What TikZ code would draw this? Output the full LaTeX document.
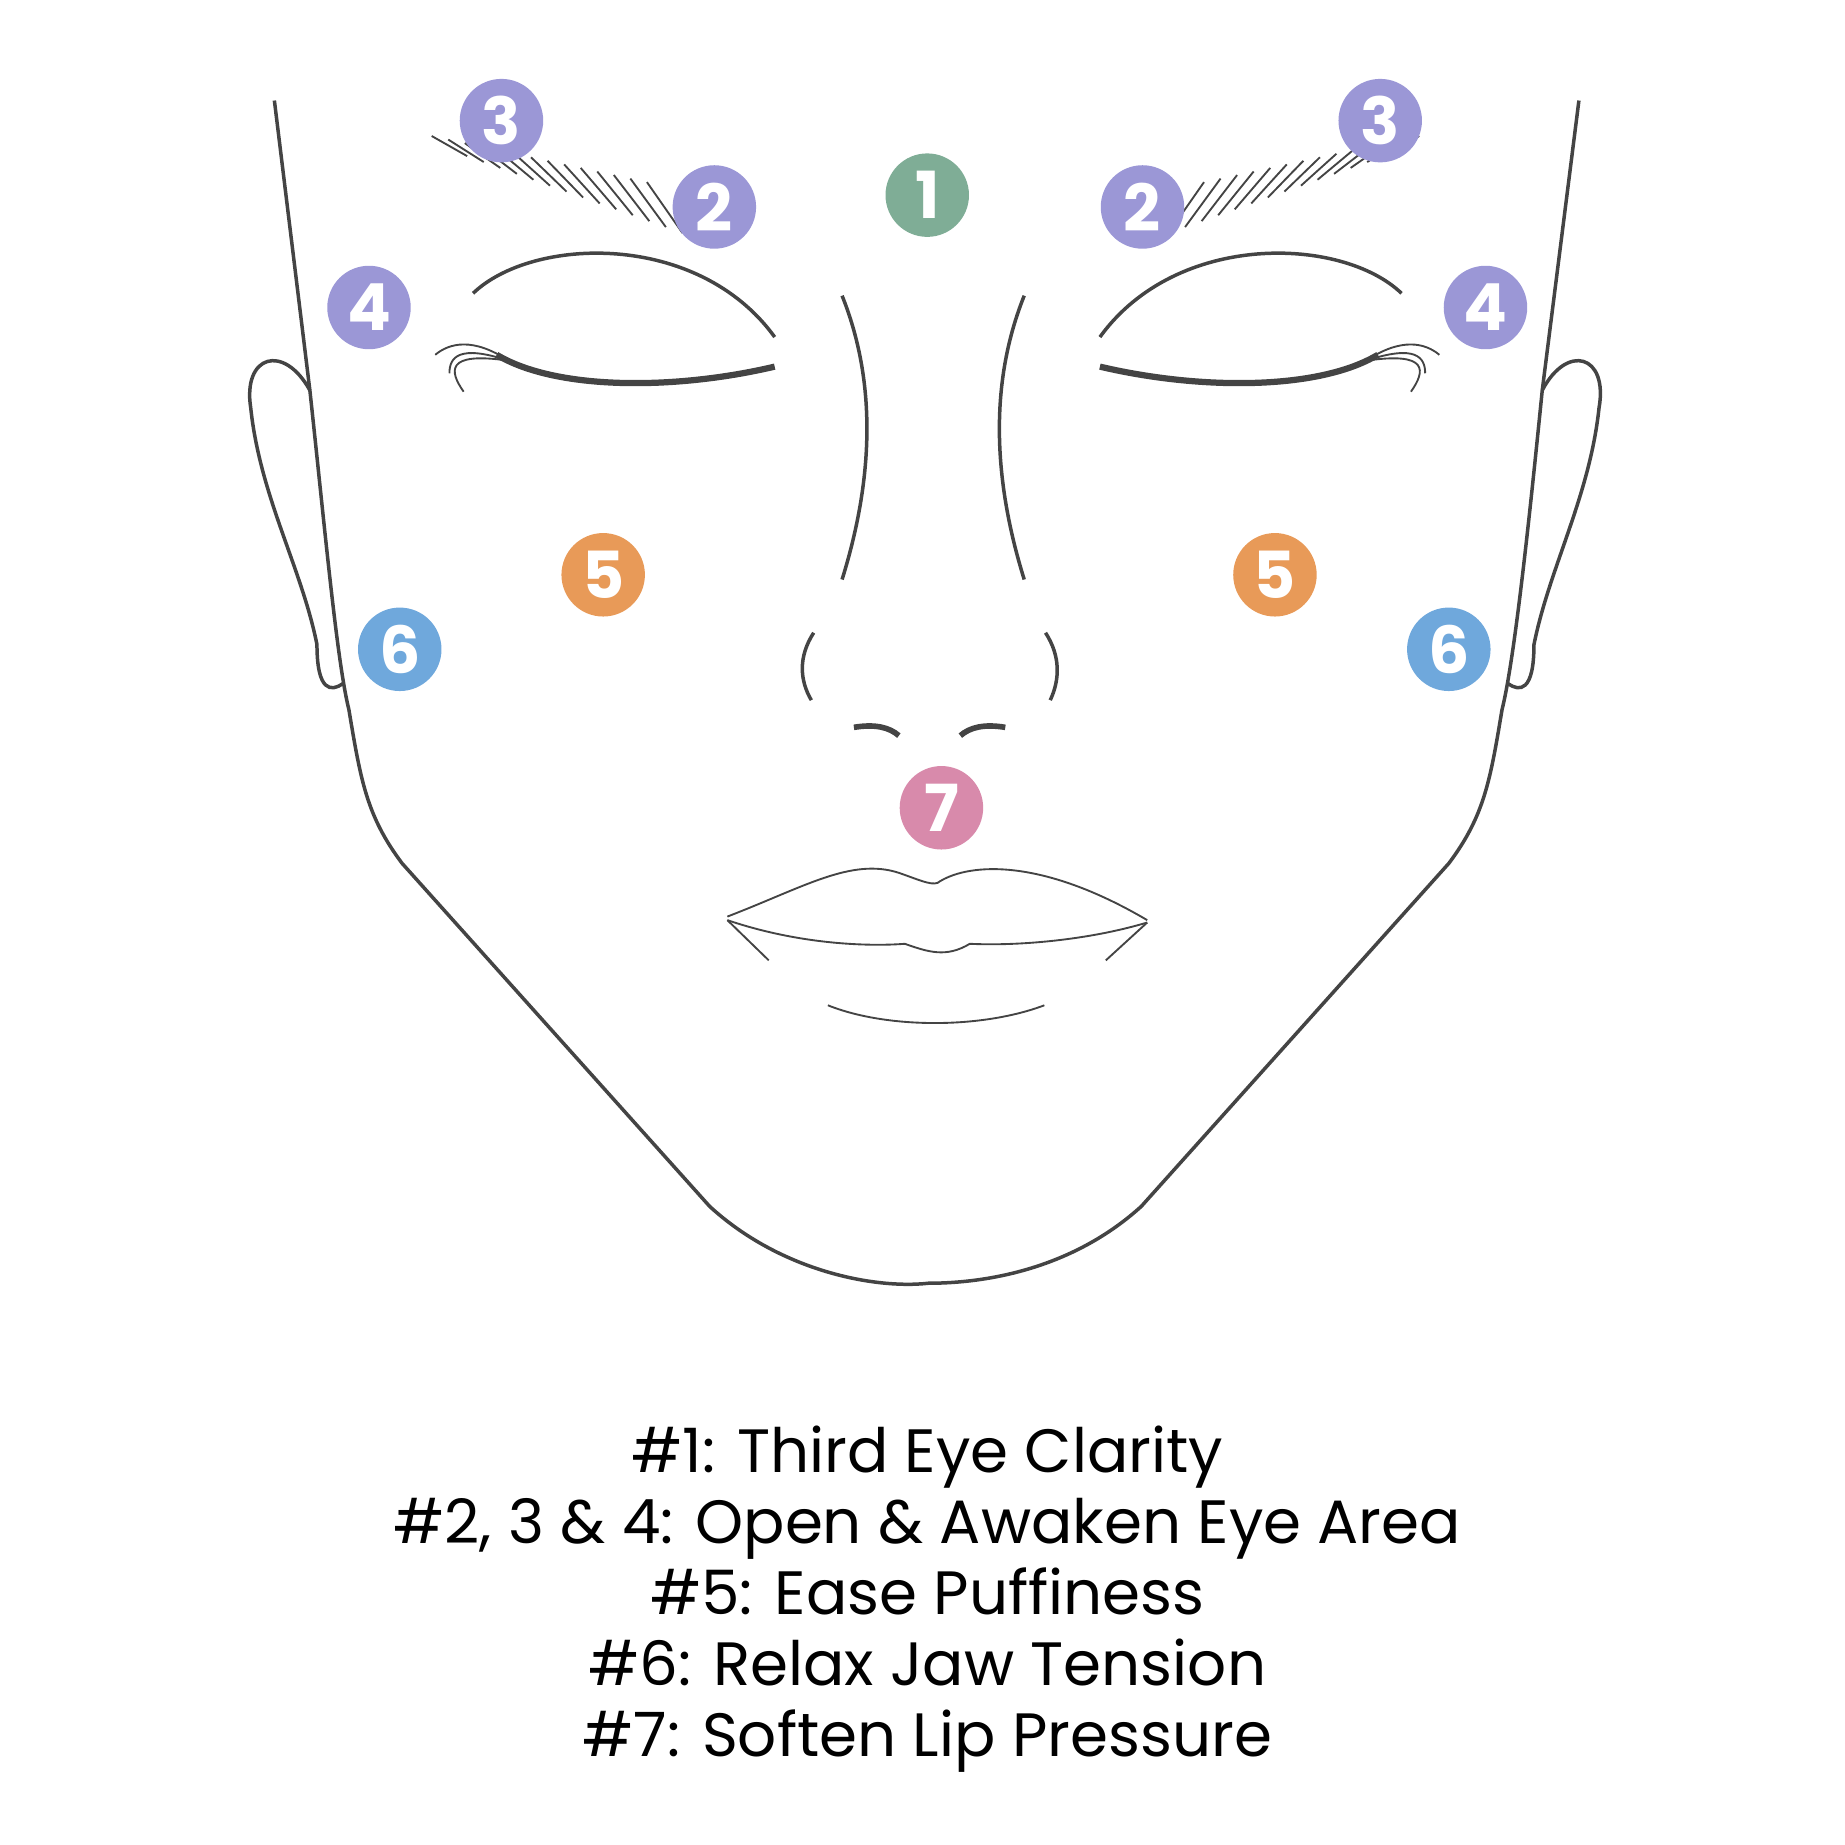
\documentclass[tikz,border=0pt]{standalone}
\usepackage{fontspec}
\setmainfont{Poppins}
\definecolor{lilac}{HTML}{9B97D6}
\definecolor{sage}{HTML}{7FAD96}
\definecolor{apricot}{HTML}{E89A58}
\definecolor{sky}{HTML}{6FA8DC}
\definecolor{rose}{HTML}{D88AAB}
\definecolor{ink}{HTML}{444444}
\tikzset{
  line/.style={ink,line width=2.8pt},
  fine/.style={ink,line width=1.5pt},
  spot/.style={circle,fill=#1,text=white,minimum size=2.35cm,inner sep=0pt,font=\fontsize{52}{52}\selectfont\bfseries},
  legendline/.style={font=\fontsize{49}{49}\selectfont,anchor=base}
}
\begin{document}
\begin{tikzpicture}[x=0.0333cm,y=-0.0333cm]
  \useasboundingbox (0,0) rectangle (1560,1560);
  % face outline
  \draw[line] (232,85) -- (262,330) .. controls (275,450) and (285,560) .. (295,600)
    .. controls (305,660) and (310,690) .. (340,730) -- (600,1020)
    .. controls (660,1075) and (740,1090) .. (785,1085)
    .. controls (840,1085) and (910,1070) .. (965,1020) -- (1225,730)
    .. controls (1255,690) and (1260,660) .. (1270,600)
    .. controls (1280,560) and (1292,450) .. (1304,330) -- (1335,85);
  % ears
  \draw[line] (262,330) .. controls (240,290) and (205,300) .. (212,345)
    .. controls (220,420) and (255,480) .. (268,545) .. controls (268,585) and (280,585) .. (290,578);
  \draw[line] (1304,330) .. controls (1325,290) and (1360,300) .. (1352,345)
    .. controls (1344,420) and (1310,480) .. (1297,545) .. controls (1297,585) and (1285,585) .. (1275,578);
  % eyebrows
  \foreach \i in {0,...,13}{
    \draw[fine] ({365+14*\i},{115+3*\i}) -- ({395+14*\i},{132+5*\i});
    \draw[fine] ({1200-14*\i},{115+3*\i}) -- ({1170-14*\i},{132+5*\i});
  }
  % eyes
  \draw[line] (400,248) .. controls (450,200) and (590,195) .. (655,285);
  \draw[line] (930,285) .. controls (995,195) and (1135,200) .. (1185,248);
  \draw[ink,line width=5pt] (420,300) .. controls (470,330) and (570,330) .. (655,310);
  \draw[ink,line width=5pt] (930,310) .. controls (1015,330) and (1115,330) .. (1165,300);
  \foreach \d in {0,12,24}{
    \draw[fine] (430,305) .. controls ({400-\d},{285+\d/2}) and (380,{290+\d}) .. ({368+\d},{300+\d*1.3});
    \draw[fine] (1155,305) .. controls ({1185+\d},{285+\d/2}) and (1205,{290+\d}) .. ({1217-\d},{300+\d*1.3});
  }
  % nose
  \draw[line] (712,250) .. controls (740,320) and (740,400) .. (712,490);
  \draw[line] (866,250) .. controls (838,320) and (838,400) .. (866,490);
  \draw[line] (688,535) .. controls (675,555) and (676,575) .. (686,592);
  \draw[line] (884,535) .. controls (897,555) and (896,575) .. (888,592);
  \draw[ink,line width=4.5pt] (722,615) .. controls (740,612) and (752,615) .. (760,622);
  \draw[ink,line width=4.5pt] (812,622) .. controls (820,615) and (832,612) .. (850,615);
  % lips
  \draw[fine] (615,775) .. controls (680,750) and (720,725) .. (760,738)
    .. controls (780,745) and (790,750) .. (795,745)
    .. controls (820,730) and (880,725) .. (970,778);
  \draw[fine] (615,778) .. controls (680,800) and (740,800) .. (765,798)
    .. controls (785,805) and (800,810) .. (820,798)
    .. controls (860,800) and (920,795) .. (970,780);
  \draw[fine] (615,778) -- (650,812);
  \draw[fine] (970,780) -- (935,812);
  \draw[fine] (700,850) .. controls (750,870) and (830,870) .. (883,850);
  % spots
  \node[spot=sage] (s1) at (784,165) {1};
  \node[spot=lilac] (s2l) at (604,175) {2};
  \node[spot=lilac] (s2r) at (966,175) {2};
  \node[spot=lilac] (s3l) at (424,102) {3};
  \node[spot=lilac] (s3r) at (1167,102) {3};
  \node[spot=lilac] (s4l) at (312,260) {4};
  \node[spot=lilac] (s4r) at (1256,260) {4};
  \node[spot=apricot] (s5l) at (510,486) {5};
  \node[spot=apricot] (s5r) at (1078,486) {5};
  \node[spot=sky] (s6l) at (338,549) {6};
  \node[spot=sky] (s6r) at (1225,549) {6};
  \node[spot=rose] (s7) at (796,683) {7};
  % legend
  \node[legendline] (l1) at (784,1245) {\#1: Third Eye Clarity};
  \node[legendline] (l2) at (784,1305) {\#2, 3 \& 4: Open \& Awaken Eye Area};
  \node[legendline] (l3) at (784,1365) {\#5: Ease Puffiness};
  \node[legendline] (l4) at (784,1425) {\#6: Relax Jaw Tension};
  \node[legendline] (l5) at (784,1485) {\#7: Soften Lip Pressure};
\end{tikzpicture}
\end{document}
